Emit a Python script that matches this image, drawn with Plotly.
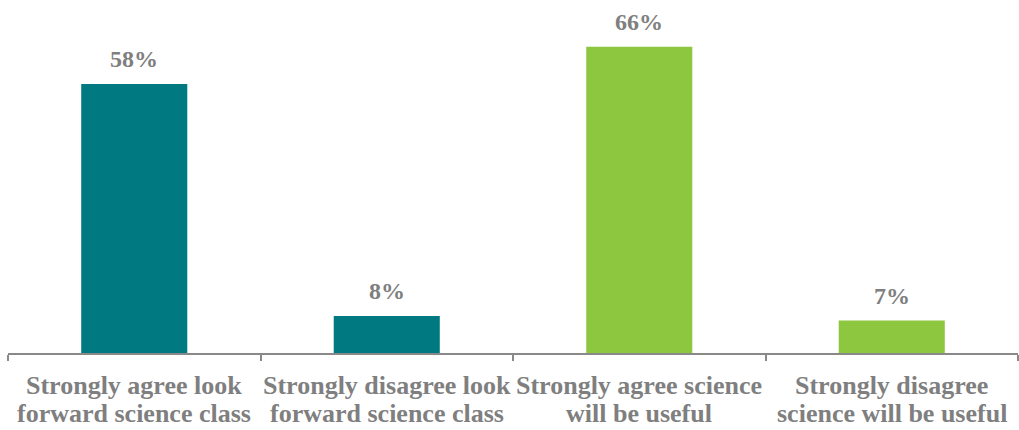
import plotly.graph_objects as go

categories = ["Strongly agree look<br>forward science class",
              "Strongly disagree look<br>forward science class",
              "Strongly agree science<br>will be useful",
              "Strongly disagree<br>science will be useful"]
values = [58, 8, 66, 7]
labels = ["58%", "8%", "66%", "7%"]
colors = ["#007A80", "#007A80", "#8DC63F", "#8DC63F"]

FONT = "Liberation Serif"
GRAY = "#7F7F7F"

fig = go.Figure(go.Bar(x=categories, y=values, marker_color=colors,
                       marker_line_width=0, hoverinfo="skip"))

# value labels
for c, v, t in zip(categories, values, labels):
    fig.add_annotation(x=c, y=v, text=f"<b>{t}</b>", showarrow=False,
                       yanchor="middle", yshift=25,
                       font=dict(family=FONT, size=24, color=GRAY))

# category labels (two lines each)
for c in categories:
    for i, line in enumerate(c.split("<br>")):
        fig.add_annotation(x=c, y=0, yref="paper", text=f"<b>{line}</b>",
                           showarrow=False, yanchor="middle", yshift=-32 - 28 * i,
                           font=dict(family=FONT, size=26, color=GRAY))

fig.update_layout(
    width=1019, height=430,
    margin=dict(l=8, r=1, t=0, b=77),
    paper_bgcolor="white", plot_bgcolor="white",
    bargap=0.58, showlegend=False,
    xaxis=dict(showline=True, linecolor="#898989", linewidth=1.5,
               ticks="outside", ticklen=6, tickcolor="#898989", tickwidth=1.5,
               tickson="boundaries", showticklabels=False,
               showgrid=False),
    yaxis=dict(range=[0, 76.1], visible=False, showgrid=False, zeroline=False),
)
fig.write_html("out.html")
